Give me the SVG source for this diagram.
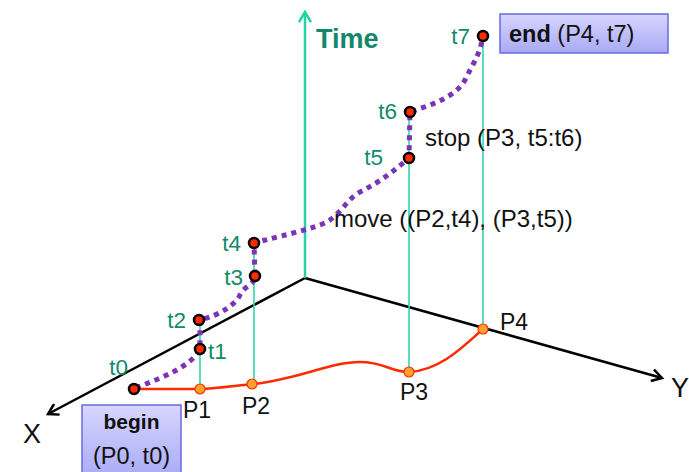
<svg xmlns="http://www.w3.org/2000/svg" width="689" height="472" viewBox="0 0 689 472">
<defs>
<linearGradient id="box" x1="0" y1="0" x2="0" y2="1">
<stop offset="0" stop-color="#d6d6ff"/><stop offset="1" stop-color="#a9a9f5"/>
</linearGradient>
<marker id="arr" markerWidth="14" markerHeight="14" refX="11" refY="7" orient="auto" markerUnits="userSpaceOnUse">
<path d="M1,1 L11,7 L1,13" fill="none" stroke="#000" stroke-width="2.5"/>
</marker>
<marker id="arrT" markerWidth="14" markerHeight="14" refX="11" refY="7" orient="auto" markerUnits="userSpaceOnUse">
<path d="M1,1 L11,7 L1,13" fill="none" stroke="#22d3a6" stroke-width="2.5"/>
</marker>
</defs>
<style>
.axis{stroke:#000;stroke-width:2.5;fill:none}
.vl{stroke:#2fd6b0;stroke-width:1.6;fill:none}
.traj{stroke:#7a34b5;stroke-width:5;stroke-dasharray:5 5;fill:none}
.tp{fill:#ff2a00;stroke:#000;stroke-width:2.5}
.pp{fill:#ffa030;stroke:#ff3000;stroke-width:1.2}
.tl{font-family:"Liberation Sans",Arial,sans-serif;font-size:22.5px;fill:#108a6a}
.pl{font-family:"Liberation Sans",Arial,sans-serif;font-size:23px;fill:#111}
.lb{font-family:"Liberation Sans",Arial,sans-serif;font-size:24px;fill:#111}
.bx{fill:url(#box);stroke:#6a6ae0;stroke-width:1.5}
</style>
<g id="connectors">
<line class="axis" x1="305" y1="278" x2="48" y2="414" marker-end="url(#arr)"/>
<line class="axis" x1="305" y1="278" x2="662" y2="378" marker-end="url(#arr)"/>
<line x1="305" y1="278" x2="305" y2="12" stroke="#22d3a6" stroke-width="2.5" marker-end="url(#arrT)"/>
<line class="vl" x1="200" y1="389" x2="200" y2="320"/>
<line class="vl" x1="254" y1="384" x2="254" y2="243"/>
<line class="vl" x1="409" y1="372" x2="409" y2="112"/>
<line class="vl" x1="483" y1="329" x2="483" y2="36"/>
<path d="M134,389 L200,389 C220,388 240,385 254,384 C300,379 330,362 360,362 C385,362 390,372 409,372 C440,371 465,345 483,329" stroke="#ff2a00" stroke-width="2.5" fill="none"/>
<path class="traj" d="M136,388 C160,378 190,368 200,349 L200,320 C220,315 235,305 240,295 C245,285 255,285 255,276 L254,243 C280,236 300,232 320,225 C340,218 345,200 360,192 C380,182 395,170 409,158 L410,112 C430,105 455,98 465,80 C472,65 480,55 483,36"/>
</g>
<g id="P0"><circle class="tp" cx="134" cy="389" r="5"/></g>
<g id="P1"><circle class="pp" cx="200" cy="389" r="5"/><text class="pl" x="183" y="418">P1</text></g>
<g id="P2"><circle class="pp" cx="252" cy="384" r="5"/><text class="pl" x="242" y="414">P2</text></g>
<g id="P3"><circle class="pp" cx="409" cy="372" r="5"/><text class="pl" x="400" y="400">P3</text></g>
<g id="P4"><circle class="pp" cx="483" cy="329" r="5"/><text class="pl" x="500" y="330">P4</text></g>
<g id="t0"><text class="tl" x="128" y="375" text-anchor="end">t0</text></g>
<g id="t1"><circle class="tp" cx="200" cy="349" r="5"/><text class="tl" x="208" y="359">t1</text></g>
<g id="t2"><circle class="tp" cx="199" cy="320" r="5"/><text class="tl" x="186" y="328" text-anchor="end">t2</text></g>
<g id="t3"><circle class="tp" cx="255" cy="276" r="5"/><text class="tl" x="243" y="285" text-anchor="end">t3</text></g>
<g id="t4"><circle class="tp" cx="254" cy="243" r="5"/><text class="tl" x="241" y="251" text-anchor="end">t4</text></g>
<g id="t5"><circle class="tp" cx="409" cy="158" r="5"/><text class="tl" x="383" y="165" text-anchor="end">t5</text></g>
<g id="t6"><circle class="tp" cx="410" cy="112" r="5"/><text class="tl" x="397" y="119" text-anchor="end">t6</text></g>
<g id="t7"><circle class="tp" cx="483" cy="36" r="5"/><text class="tl" x="470" y="44" text-anchor="end">t7</text></g>
<g id="time"><text x="316" y="48" font-family="Liberation Sans,Arial,sans-serif" font-size="27" font-weight="bold" fill="#12876a">Time</text></g>
<g id="X"><text x="23" y="443" font-family="Liberation Sans,Arial,sans-serif" font-size="27" fill="#111">X</text></g>
<g id="Y"><text x="671" y="397" font-family="Liberation Sans,Arial,sans-serif" font-size="27" fill="#111">Y</text></g>
<g id="move"><text class="lb" x="334" y="227">move ((P2,t4), (P3,t5))</text></g>
<g id="stop"><text class="lb" x="425" y="146">stop (P3, t5:t6)</text></g>
<g id="begin">
<rect class="bx" x="82" y="405" width="99" height="75"/>
<text x="131.5" y="429" text-anchor="middle" font-family="Liberation Sans,Arial,sans-serif" font-size="21" font-weight="bold" fill="#111">begin</text>
<text x="131.5" y="464" text-anchor="middle" font-family="Liberation Sans,Arial,sans-serif" font-size="23.5" fill="#111">(P0, t0)</text>
</g>
<g id="end">
<rect class="bx" x="500" y="14" width="168" height="39"/>
<text x="509" y="42" font-family="Liberation Sans,Arial,sans-serif" font-size="23.5" fill="#111"><tspan font-weight="bold">end</tspan> (P4, t7)</text>
</g>
</svg>
